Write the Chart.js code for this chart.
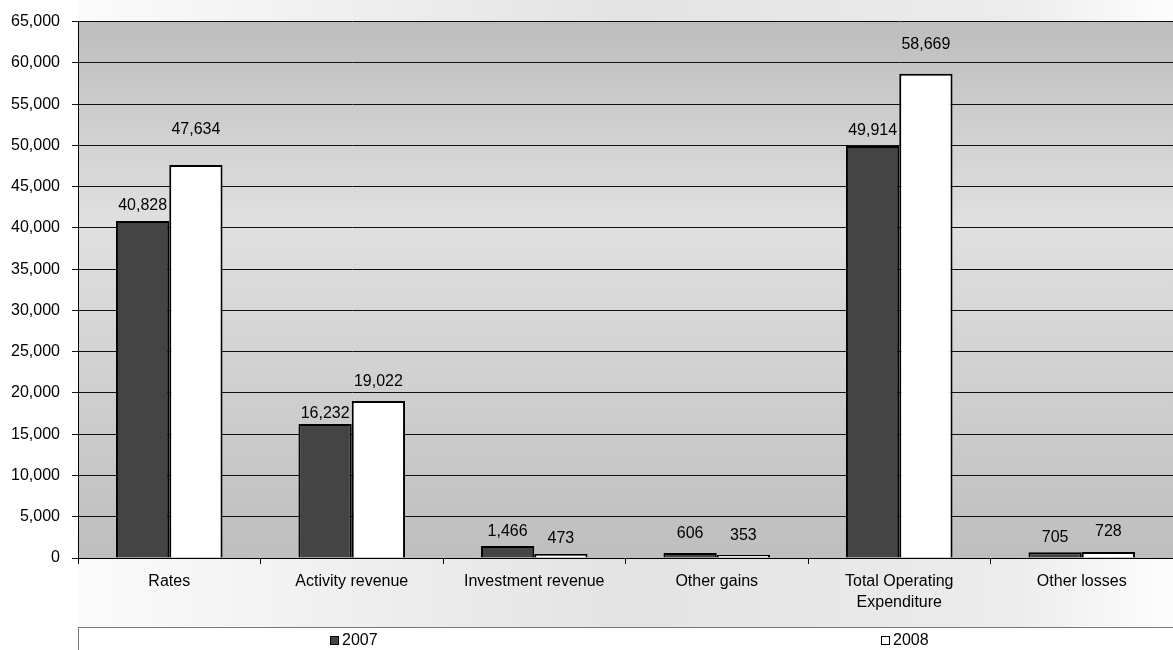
<!DOCTYPE html>
<html>
<head>
<meta charset="utf-8">
<title>Revenue and expenditure 2007 / 2008</title>
<script src="https://cdn.jsdelivr.net/npm/chart.js@4.4.1/dist/chart.umd.min.js"></script>
<style>
  html, body { margin: 0; padding: 0; background: #fff; }
  #chart { display: block; }
</style>
</head>
<body>
<canvas id="chart" width="1173" height="650"></canvas>
<script>
// categories and values ($000)
const categories = ['Rates', 'Activity revenue', 'Investment revenue', 'Other gains', ['Total Operating', 'Expenditure'], 'Other losses'];
const seriesNames = ['2007', '2008'];
const values2007 = [40828, 16232, 1466, 606, 49914, 705];
const values2008 = [47634, 19022, 473, 353, 58669, 728];

// y axis range and tick step
const yMin = 0;
const yMax = 65000;
const yStep = 5000;

// how far each value label sits above its bar (px)
const labelLift = [
  [15, 10, 14, 19, 16, 15],
  [35, 19, 16, 19, 29, 20]
];

const FONT = "'Liberation Sans', Arial, sans-serif";
const SIZE = 16;
Chart.defaults.font.family = FONT;
Chart.defaults.font.size = SIZE;
Chart.defaults.color = '#000';

const fmt = v => Number(v).toLocaleString('en-US');

// grey panels behind the chart
const panels = {
  id: 'panels',
  beforeDraw(chart) {
    const { ctx, width, height, chartArea: a } = chart;
    ctx.save();
    ctx.fillStyle = '#fff';
    ctx.fillRect(0, 0, width, height);

    const outer = ctx.createLinearGradient(a.left, 0, width, 0);
    outer.addColorStop(0, '#fbfbfb');
    outer.addColorStop(0.5, '#e3e3e3');
    outer.addColorStop(0.85, '#ececec');
    outer.addColorStop(1, '#fdfdfd');
    ctx.fillStyle = outer;
    ctx.fillRect(a.left, 0, width - a.left, 627);

    const inner = ctx.createLinearGradient(0, a.top, 0, a.bottom);
    inner.addColorStop(0, '#bdbdbd');
    inner.addColorStop(0.38, '#e0e0e0');
    inner.addColorStop(1, '#bebebe');
    ctx.fillStyle = inner;
    ctx.fillRect(a.left, a.top, a.right - a.left, a.bottom - a.top);
    ctx.restore();
  }
};

// numbers above the bars
const valueLabels = {
  id: 'valueLabels',
  afterDatasetsDraw(chart) {
    const ctx = chart.ctx;
    ctx.save();
    ctx.font = SIZE + 'px ' + FONT;
    ctx.fillStyle = '#000';
    ctx.textAlign = 'center';
    ctx.textBaseline = 'middle';
    chart.data.datasets.forEach((ds, i) => {
      chart.getDatasetMeta(i).data.forEach((bar, j) => {
        ctx.fillText(fmt(ds.data[j]), bar.x, bar.y - labelLift[i][j]);
      });
    });
    ctx.restore();
  }
};

// boxed legend along the bottom, one entry per half
const boxLegend = {
  id: 'boxLegend',
  afterDraw(chart) {
    const { ctx, width, chartArea: a } = chart;
    const top = 627;
    const right = width + 8;
    ctx.save();
    ctx.fillStyle = '#fff';
    ctx.fillRect(a.left, top, right - a.left, 40);
    ctx.strokeStyle = '#7a7a7a';
    ctx.lineWidth = 1;
    ctx.strokeRect(a.left + 0.5, top + 0.5, right - a.left, 40);

    ctx.font = SIZE + 'px ' + FONT;
    ctx.textBaseline = 'middle';
    ctx.textAlign = 'left';
    const half = (right - a.left) / 2;
    chart.data.datasets.forEach((ds, i) => {
      const label = ds.label;
      const w = 9 + 3 + ctx.measureText(label).width;
      const cx = a.left + half * i + half / 2;
      const x0 = Math.round(cx - w / 2);
      const y = 641;
      ctx.fillStyle = ds.backgroundColor;
      ctx.fillRect(x0, y - 5, 9, 9);
      ctx.strokeStyle = '#000';
      ctx.strokeRect(x0 + 0.5, y - 4.5, 8, 8);
      ctx.fillStyle = '#000';
      ctx.fillText(label, x0 + 12, y);
    });
    ctx.restore();
  }
};

new Chart(document.getElementById('chart'), {
  type: 'bar',
  data: {
    labels: categories,
    datasets: [
      {
        label: seriesNames[0],
        data: values2007,
        backgroundColor: '#444444',
        borderColor: '#000',
        borderWidth: 2
      },
      {
        label: seriesNames[1],
        data: values2008,
        backgroundColor: '#ffffff',
        borderColor: '#000',
        borderWidth: 2
      }
    ]
  },
  options: {
    responsive: false,
    animation: false,
    categoryPercentage: 0.584,
    barPercentage: 1,
    layout: { padding: { top: 18, right: 0, bottom: 0, left: 0 } },
    plugins: {
      legend: { display: false },
      tooltip: { enabled: false }
    },
    scales: {
      x: {
        grid: { drawOnChartArea: false, color: '#000', tickLength: 6, offset: true },
        border: { color: '#000' },
        ticks: {
          color: '#000',
          font: { size: SIZE, lineHeight: 1.32 },
          padding: 7,
          maxRotation: 0,
          autoSkip: false
        },
        afterFit(scale) { scale.height = 92; }
      },
      y: {
        min: yMin,
        max: yMax,
        grid: { color: '#111', tickLength: 6 },
        border: { color: '#000' },
        ticks: {
          stepSize: yStep,
          color: '#000',
          font: { size: SIZE },
          padding: 12,
          callback: v => fmt(v)
        },
        afterFit(scale) { scale.width = 78; }
      }
    }
  },
  plugins: [panels, valueLabels, boxLegend]
});
</script>
</body>
</html>
